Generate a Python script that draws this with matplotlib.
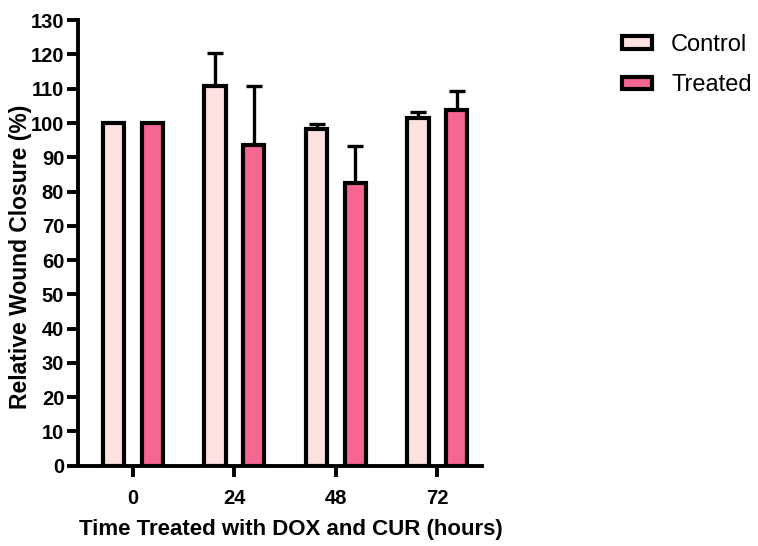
import numpy as np
import matplotlib
matplotlib.use("Agg")
import matplotlib.pyplot as plt

times = ["0", "24", "48", "72"]
control = [100, 110.8, 98.3, 101.4]
control_err = [0, 9.5, 1.4, 1.8]
treated = [100, 93.6, 82.6, 103.8]
treated_err = [0, 17.3, 10.6, 5.6]

plt.rcParams['font.family'] = ['Liberation Sans', 'DejaVu Sans']

fig = plt.figure(figsize=(7.58, 5.46), dpi=100)
ax = fig.add_axes([0.103, 0.147, 0.533, 0.816])

x = np.arange(len(times))
w = 0.21
off = 0.19
lw = 3.0

ax.bar(x - off, control, w, color='#fde0e0', edgecolor='black', linewidth=lw,
       label='Control', zorder=2)
ax.bar(x + off, treated, w, color='#f56791', edgecolor='black', linewidth=lw,
       label='Treated', zorder=2)
zeros = [0] * len(times)
ax.errorbar(x - off, control, yerr=[zeros, control_err], fmt='none',
            ecolor='black', elinewidth=2.4, capsize=5.5, capthick=2.4, zorder=1)
ax.errorbar(x + off, treated, yerr=[zeros, treated_err], fmt='none',
            ecolor='black', elinewidth=2.4, capsize=5.5, capthick=2.4, zorder=1)

ax.set_xlim(-0.54, 3.44)
ax.set_ylim(0, 130)
ax.set_yticks(range(0, 131, 10))
ax.set_xticks(x)
ax.set_xticklabels(times)
for s in ['top', 'right']:
    ax.spines[s].set_visible(False)
for s in ['left', 'bottom']:
    ax.spines[s].set_linewidth(2.8)
ax.tick_params(axis='both', width=2.8, length=8, labelsize=14.5)
ax.tick_params(axis='y', pad=2)
ax.tick_params(axis='x', pad=9)
for lab in ax.get_xticklabels() + ax.get_yticklabels():
    lab.set_fontweight('bold')

ax.set_xlabel("Time Treated with DOX and CUR (hours)", fontsize=16,
              fontweight='bold')
ax.xaxis.set_label_coords(0.527, -0.12)
ax.set_ylabel("Relative Wound Closure (%)", fontsize=16.5, fontweight='bold')
ax.yaxis.set_label_coords(-0.115, 0.47)

ax.legend(loc='upper left', bbox_to_anchor=(0.82, 0.938),
          bbox_transform=fig.transFigure, frameon=False, borderpad=0,
          borderaxespad=0, fontsize=17, handlelength=1.3, handleheight=0.42,
          handletextpad=0.8, labelspacing=0.78)

fig.savefig("out.png", dpi=100)
